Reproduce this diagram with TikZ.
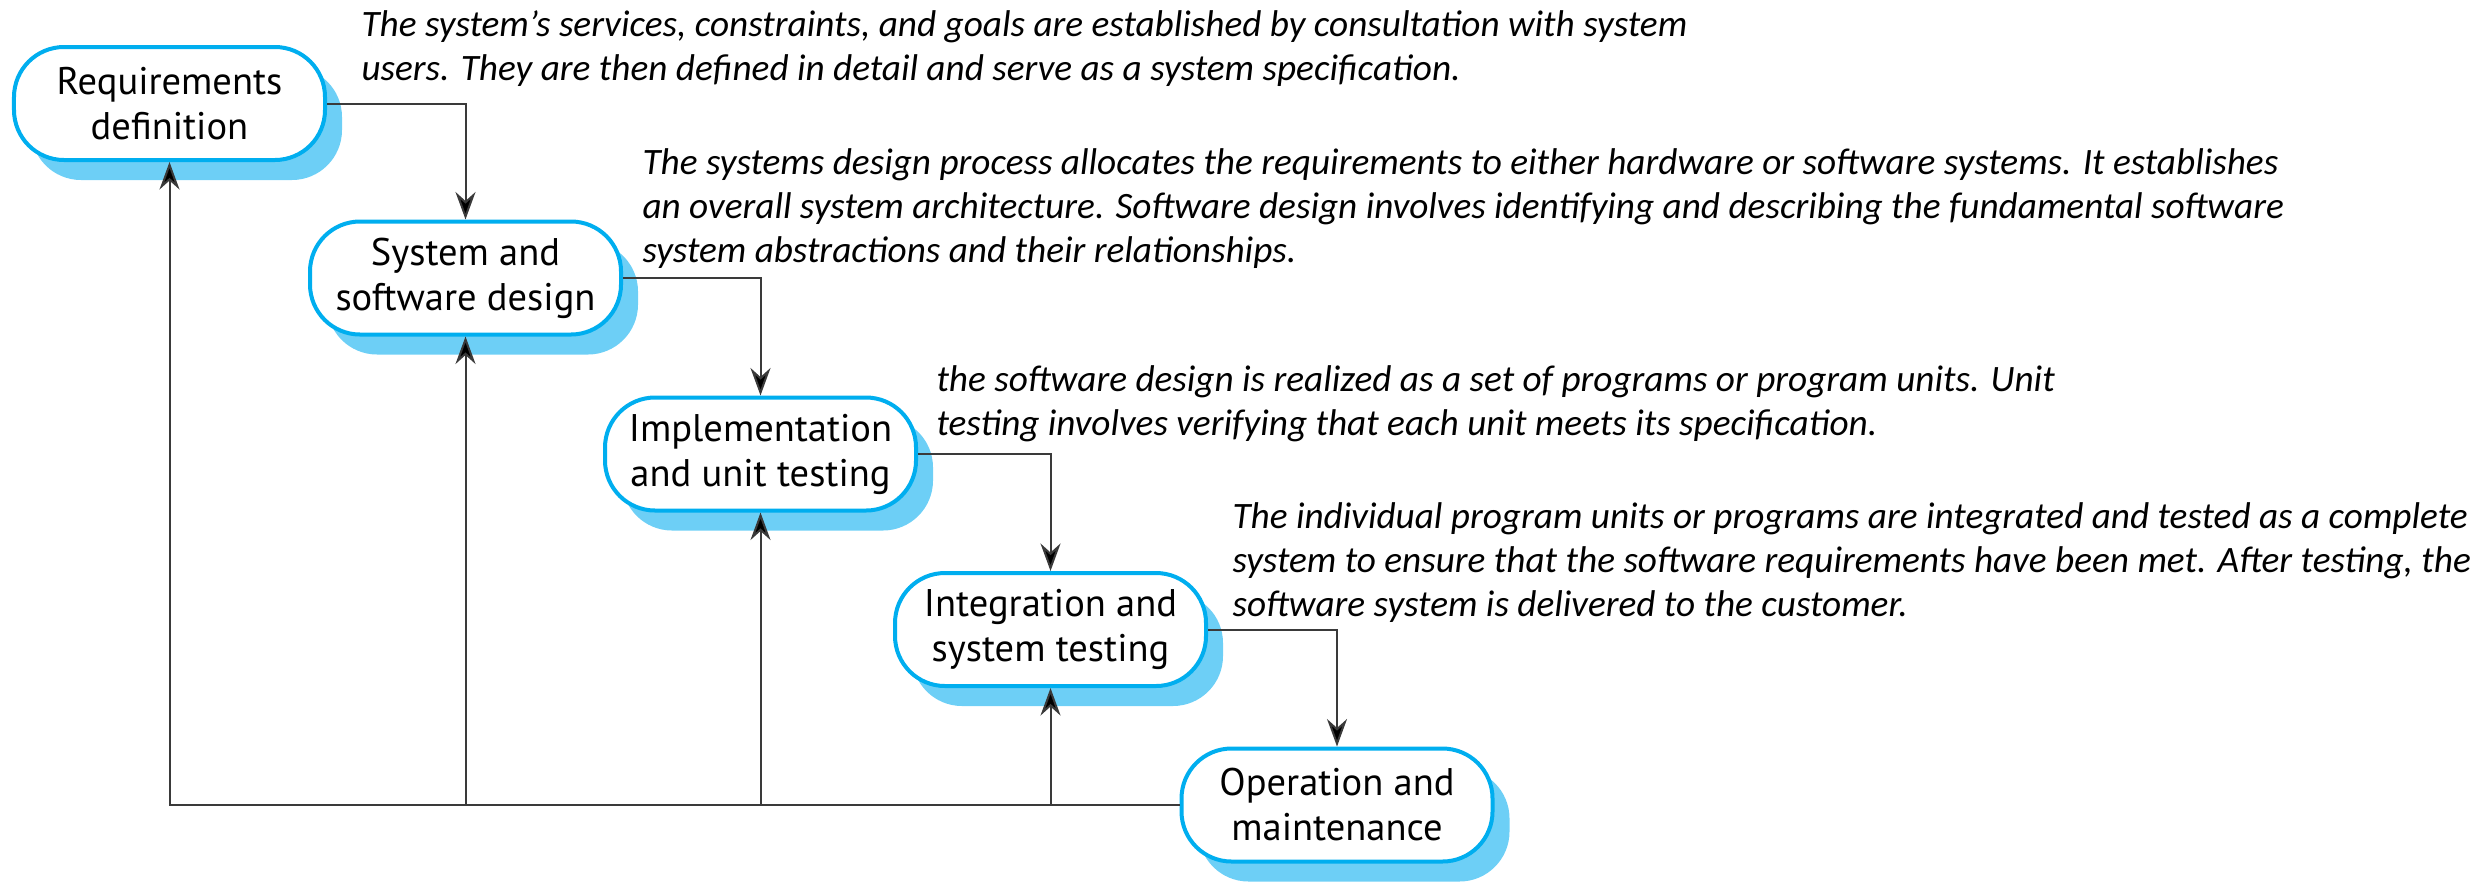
\documentclass[tikz,border=0pt]{standalone}
\usepackage{fontspec}
\usetikzlibrary{arrows.meta,shadows}
\newfontfamily\boxfont{PT Sans}
\newfontfamily\notefont{Carlito}
\definecolor{boxblue}{HTML}{00AEEF}
\definecolor{shadowblue}{HTML}{6DCFF6}
\definecolor{linegray}{HTML}{3A3A3A}
\tikzset{
  phase/.style={draw=boxblue, line width=1.6pt, fill=white, rounded corners=20pt,
    minimum width=124.4pt, minimum height=45.2pt, inner sep=0pt, align=center,
    font=\boxfont\fontsize{15.4pt}{18pt}\selectfont,
    drop shadow={shadow xshift=6.8pt, shadow yshift=-8pt, fill=shadowblue, opacity=1}},
  note/.style={anchor=north west, align=left, inner sep=0pt,
    font=\notefont\itshape\fontsize{14.9pt}{17.6pt}\selectfont},
  flow/.style={draw=linegray, line width=0.8pt, -{Stealth[length=11pt,width=8pt,fill=black]}}
}
\begin{document}
\begin{tikzpicture}[x=0.4pt,y=-0.4pt]
            \useasboundingbox (0,0) rectangle (2483,881);
            %le cinque fasi del modello a cascata
            \node[phase] (1) at (169.5,103.5) {Requirements\\definition};
            \node[phase] (2) at (465.5,278) {System and\\software design};
            \node[phase] (3) at (760.5,454) {Implementation\\and unit testing};
            \node[phase] (4) at (1050.5,629.5) {Integration and\\system testing};
            \node[phase] (5) at (1337,805) {Operation and\\maintenance};

            %descrizioni
            \node[note] (d1) at (361,10) {The system’s services, constraints, and goals are established by consultation with system\\users. They are then defined in detail and serve as a system specification.};
            \node[note] (d2) at (642,148) {The systems design process allocates the requirements to either hardware or software systems. It establishes\\an overall system architecture. Software design involves identifying and describing the fundamental software\\system abstractions and their relationships.};
            \node[note] (d3) at (936,365) {the software design is realized as a set of programs or program units. Unit\\testing involves verifying that each unit meets its specification.};
            \node[note] (d4) at (1232,502) {The individual program units or programs are integrated and tested as a complete\\system to ensure that the software requirements have been met. After testing, the\\software system is delivered to the customer.};

            \draw[flow] (1.east) -| (2.north);
            \draw[flow] (2.east) -| (3.north);
            \draw[flow] (3.east) -| (4.north);
            \draw[flow] (4.east) -| (5.north);

            %ritorno alle fasi precedenti
            \draw[flow] (5.west) -| (1.south);
            \foreach \n in {2,3,4}
                \draw[flow] (\n.south |- 5.west) -- (\n.south);

        \end{tikzpicture}
\end{document}
